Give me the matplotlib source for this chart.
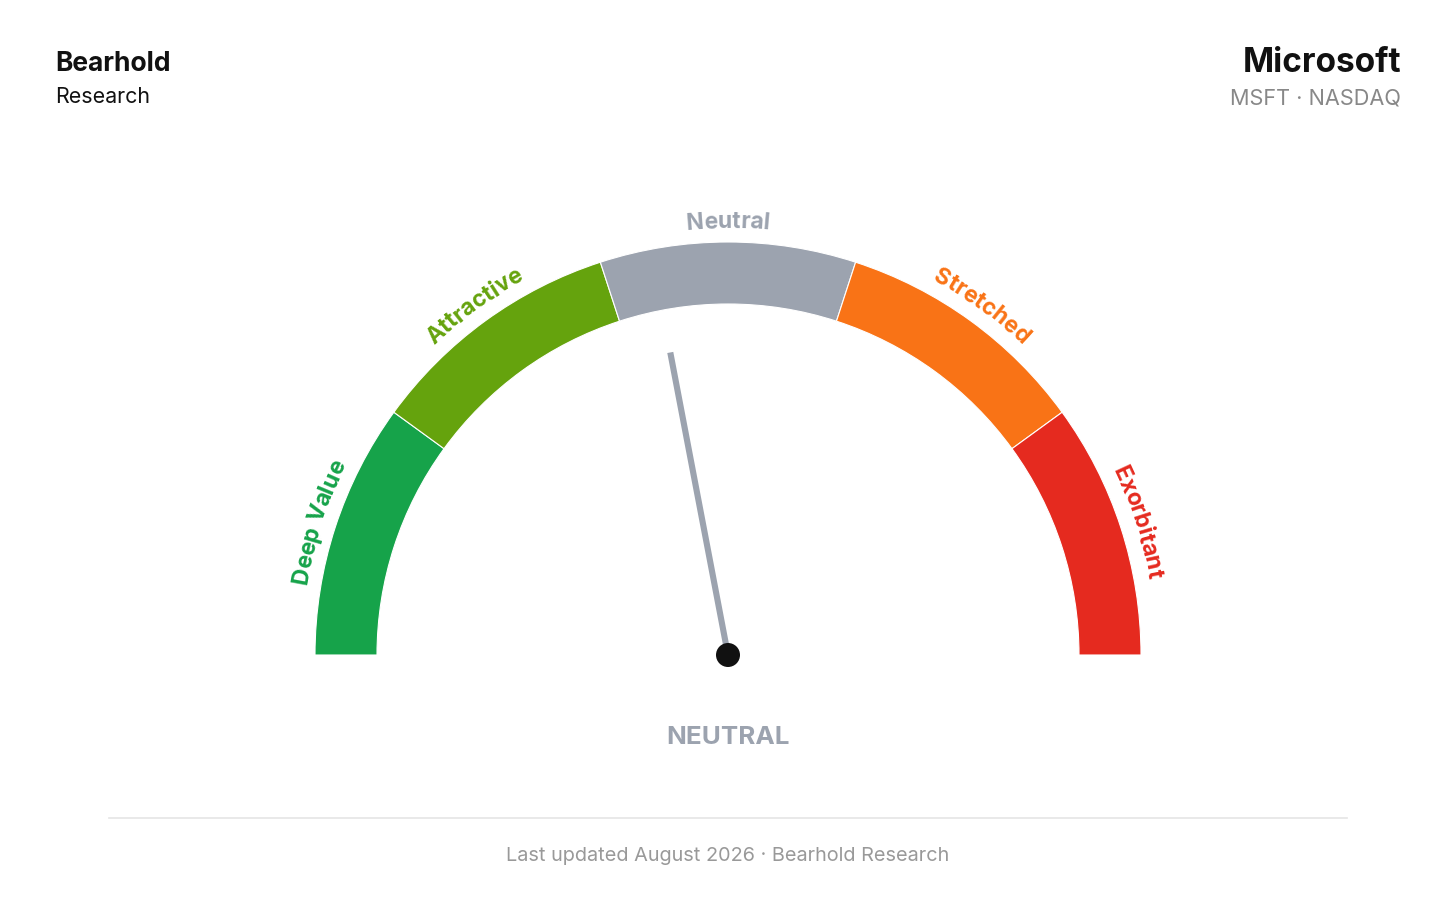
import numpy as np
import matplotlib.pyplot as plt
from matplotlib.patches import Wedge, Circle

plt.rcParams['font.family'] = ['Inter', 'DejaVu Sans']

# Gauge zones (0-100 scale, equal width)
zone_labels = ['Deep Value', 'Attractive', 'Neutral', 'Stretched', 'Exorbitant']
zone_edges = [0, 20, 40, 60, 80, 100]
zone_colors = ['#16a34a', '#65a30d', '#9ca3af', '#f97316', '#e52a1f']

score = 44          # needle position on the 0-100 scale
verdict = 'NEUTRAL'
company = 'Microsoft'
ticker_line = 'MSFT \u00b7 NASDAQ'
footer = 'Last updated August 2026 \u00b7 Bearhold Research'

W, H = 1456, 910
fig = plt.figure(figsize=(W / 100, H / 100), dpi=100)
ax = fig.add_axes([0, 0, 1, 1])
ax.set_xlim(0, W)
ax.set_ylim(H, 0)
ax.set_aspect('equal')
ax.axis('off')

cx, cy = 728, 655
r_out, r_in = 413, 351


def val_to_deg(v):
    return 180 - v / 100 * 180


# zones - wedge angles are in screen space, y axis is inverted so flip sign
for i, col in enumerate(zone_colors):
    a1 = val_to_deg(zone_edges[i])
    a2 = val_to_deg(zone_edges[i + 1])
    ax.add_patch(Wedge((cx, cy), r_out, -a1, -a2, width=r_out - r_in,
                       facecolor=col, edgecolor='white', linewidth=0.8))

# curved labels, one character at a time
fig.canvas.draw()
renderer = fig.canvas.get_renderer()
r_txt = 427
lab_size = 16.5


def text_width(s, size):
    t = ax.text(0, 0, s, fontsize=size, fontweight='bold')
    w = t.get_window_extent(renderer).width
    t.remove()
    return w


for i, lab in enumerate(zone_labels):
    mid = np.radians(val_to_deg((zone_edges[i] + zone_edges[i + 1]) / 2))
    total = text_width(lab, lab_size)
    for k, ch in enumerate(lab):
        w0 = text_width(lab[:k], lab_size) if k > 0 else 0
        w1 = text_width(lab[:k + 1], lab_size)
        s = (w0 + w1) / 2 - total / 2
        th = mid - s / r_txt
        x = cx + r_txt * np.cos(th)
        y = cy - r_txt * np.sin(th)
        ax.text(x, y, ch, fontsize=lab_size, fontweight='bold', color=zone_colors[i],
                ha='center', va='baseline', rotation=np.degrees(th) - 90,
                rotation_mode='anchor')

# needle
th = np.radians(val_to_deg(score))
needle_len = 308
ax.plot([cx, cx + needle_len * np.cos(th)], [cy, cy - needle_len * np.sin(th)],
        color='#9ca3af', linewidth=4.4, solid_capstyle='butt', zorder=3)
ax.add_patch(Circle((cx, cy), 12, facecolor='#111111', edgecolor='none', zorder=4))

ax.text(cx, 737, verdict, fontsize=18.7, fontweight='bold', color='#9ca3af',
        ha='center', va='center')

# header
ax.text(55, 64, 'Bearhold', fontsize=19, fontweight='bold', color='#111111',
        ha='left', va='center')
ax.text(55, 97, 'Research', fontsize=15.4, color='#111111', ha='left', va='center')
ax.text(1401, 63, company, fontsize=24, fontweight='bold', color='#111111',
        ha='right', va='center')
ax.text(1401, 98, ticker_line, fontsize=15.6, color='#888888', ha='right', va='center')

# footer
ax.plot([109, 1347], [818, 818], color='#e5e5e5', linewidth=1.2)
ax.text(728, 856, footer, fontsize=14.3, color='#999999', ha='center', va='center')

fig.savefig('out.png', dpi=100, facecolor='white')
